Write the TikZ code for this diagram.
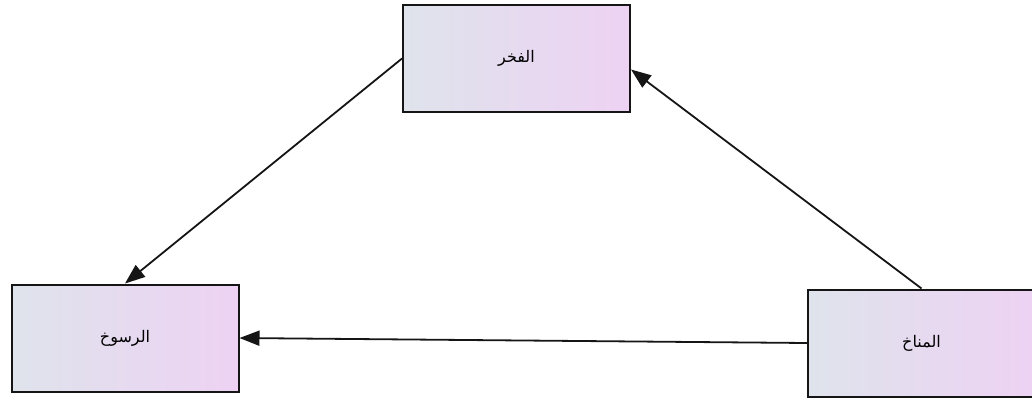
\documentclass[tikz,border=0pt]{standalone}
\usepackage{fontspec}
\usepackage{tikz}
\usetikzlibrary{arrows.meta,positioning}
\newfontfamily\arabicfont[Script=Arabic]{DejaVu Sans}
\TeXXeTstate=1
\definecolor{kutuMavi}{HTML}{DFE3EC}
\definecolor{kutuPembe}{HTML}{EDD2F3}
\definecolor{cizgiKoyu}{HTML}{151515}

\begin{document}
\begin{tikzpicture}[x=1pt,y=-1pt,
  kutu/.style={draw=cizgiKoyu,line width=2pt,left color=kutuMavi,right color=kutuPembe,
    minimum width=227pt,minimum height=107pt,inner sep=0pt,
    font=\arabicfont\fontsize{16}{18}\selectfont},
  ok/.style={-{Triangle[length=20pt,width=15pt]},line width=1.8pt,cizgiKoyu}]
\useasboundingbox (0,0) rectangle (1032,399);
\node[kutu] (fahr) at (516.5,58.5) {\beginR الفخر\endR};
\node[kutu] (rusukh) at (125,338) {\beginR الرسوخ\endR};
\node[kutu] (munakh) at (921.5,343) {\beginR المناخ\endR};
\draw[ok] (fahr.west) -- (rusukh.north);
\draw[ok] (munakh.north) -- ([yshift=-11pt]fahr.east);
\draw[ok] (munakh.west) -- (rusukh.east);
\end{tikzpicture}
\end{document}
